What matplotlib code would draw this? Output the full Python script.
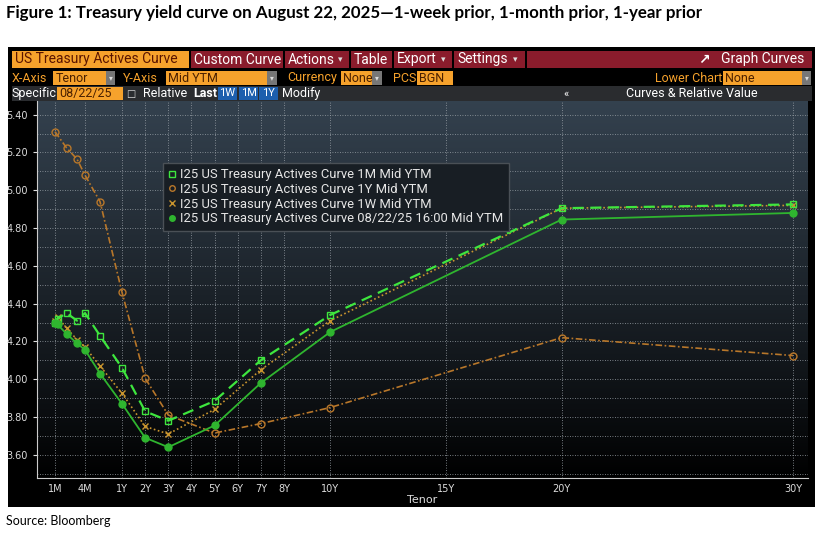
import numpy as np
import matplotlib
matplotlib.use("Agg")
import matplotlib.pyplot as plt
from matplotlib.lines import Line2D
from matplotlib.patches import Rectangle

# tenors in years (1M, 6W, 2M, 3M, 4M, 6M, 1Y, 2Y, 3Y, 5Y, 7Y, 10Y, 20Y, 30Y)
tenor_years = [1/12, 1.5/12, 2/12, 3/12, 4/12, 0.5, 1, 2, 3, 5, 7, 10, 20, 30]
curve_now = [4.30, 4.29, 4.24, 4.19, 4.155, 4.03, 3.87, 3.69, 3.64, 3.755, 3.98, 4.25, 4.845, 4.88]
curve_1w = [4.31, 4.33, 4.27, 4.21, 4.17, 4.07, 3.925, 3.75, 3.71, 3.84, 4.05, 4.31, 4.905, 4.92]
curve_1m = [4.30, 4.32, 4.35, 4.31, 4.35, 4.23, 4.06, 3.83, 3.78, 3.885, 4.10, 4.34, 4.905, 4.925]
tenor_years_1y = [1/12, 2/12, 3/12, 4/12, 0.5, 1, 2, 3, 5, 7, 10, 20, 30]
curve_1y = [5.31, 5.225, 5.165, 5.08, 4.94, 4.46, 4.005, 3.81, 3.715, 3.765, 3.85, 4.22, 4.125]

tick_years = [1/12, 4/12, 1, 2, 3, 4, 5, 6, 7, 8, 10, 15, 20, 30]
tick_labels = ['1M', '4M', '1Y', '2Y', '3Y', '4Y', '5Y', '6Y', '7Y', '8Y', '10Y', '15Y', '20Y', '30Y']

legend_labels = ['I25 US Treasury Actives Curve 1M Mid YTM',
                 'I25 US Treasury Actives Curve 1Y Mid YTM',
                 'I25 US Treasury Actives Curve 1W Mid YTM',
                 'I25 US Treasury Actives Curve 08/22/25 16:00 Mid YTM']

# bloomberg tenor axis: stretched short end, linear from 1Y on
T_ANCH = [0, 1/12, 1.5/12, 2/12, 3/12, 4/12, 0.5, 1, 31]
P_ANCH = [30, 55, 57.5, 66.5, 77, 85, 100, 122, 122 + 30 * 23.14]


def fwd(t):
    return np.interp(t, T_ANCH, P_ANCH)


def inv(p):
    return np.interp(p, P_ANCH, T_ANCH)


W, H = 826, 537
fig = plt.figure(figsize=(W / 100, H / 100), dpi=100)
fig.patch.set_facecolor('white')

ov = fig.add_axes([0, 0, 1, 1], zorder=0)
ov.set_xlim(0, W)
ov.set_ylim(H, 0)
ov.axis('off')

UI = ['Roboto', 'DejaVu Sans']
ORANGE = '#f6a22c'
RED = '#8a1c2c'


def box(x0, y0, x1, y1, c, **kw):
    ov.add_patch(Rectangle((x0, y0), x1 - x0, y1 - y0, facecolor=c, edgecolor='none', **kw))


def txt(x, y, s, c='white', size=9.5, **kw):
    kw.setdefault('family', UI)
    ov.text(x, y, s, color=c, fontsize=size, va='center', **kw)


ov.text(6, 13, 'Figure 1: Treasury yield curve on August 22, 2025\u20141-week prior, 1-month prior, 1-year prior',
        fontsize=12.2, fontweight='bold', family='Lato', va='center', color='black')
ov.text(6, 521, 'Source: Bloomberg', fontsize=9, family='Lato', va='center', color='black')

# terminal panel
box(8, 47, 815, 507, 'black')
box(12, 51, 812, 68, RED)
box(12, 51, 189, 68, ORANGE)
for xs in [189, 283, 349, 392, 452, 525]:
    box(xs, 51, xs + 1.5, 68, 'black')
txt(15, 59.5, 'US Treasury Actives Curve', c='#5a1400', size=10)
txt(194, 59.5, 'Custom Curve', size=10)
txt(288, 59.5, 'Actions', size=10)
txt(338, 60, '\u25be', size=6.5, c='#dddddd')
txt(354, 59.5, 'Table', size=10)
txt(397, 59.5, 'Export', size=10)
txt(441, 60, '\u25be', size=6.5, c='#dddddd')
txt(457, 59.5, 'Settings', size=10)
txt(513, 60, '\u25be', size=6.5, c='#dddddd')
txt(698, 59.5, '\u2197', size=10, family='DejaVu Sans', fontweight='bold')
txt(721, 59.5, 'Graph Curves', size=10)

# row 2
txt(12, 78, 'X-Axis', c=ORANGE, size=9)
box(53, 71, 106, 85, ORANGE)
txt(56, 78, 'Tenor', c='#4a2000', size=9)
box(106, 71, 115, 85, '#777777')
txt(123, 78, 'Y-Axis', c=ORANGE, size=9)
box(166, 71, 267, 85, ORANGE)
txt(168, 78, 'Mid YTM', c='#4a2000', size=9)
box(267, 71, 277, 85, '#777777')
txt(287, 78, 'Currency', c=ORANGE, size=9)
box(341, 71, 372, 85, ORANGE)
txt(343, 78, 'None', c='#4a2000', size=9)
box(372, 71, 382, 85, '#777777')
txt(393, 78, 'PCS', c=ORANGE, size=9)
box(417, 71, 453, 85, ORANGE)
txt(419, 78, 'BGN', c='#4a2000', size=9)
txt(655, 78, 'Lower Chart', c=ORANGE, size=9)
box(723, 71, 802, 85, ORANGE)
txt(725, 78, 'None', c='#4a2000', size=9)
box(802, 71, 811, 85, '#777777')
for xa in [110.5, 272, 377, 806.5]:
    txt(xa, 78.5, '\u25be', size=5.5, c='#dddddd', ha='center')

# row 3
box(12, 86, 812, 101, '#2a2c2f')
txt(12, 93.5, 'Specific', size=9)
box(57, 87, 123, 100, ORANGE)
txt(59, 93.5, '08/22/25', c='#4a2000', size=9)
txt(126, 93.5, '\u25a1', size=7, family='DejaVu Sans', c='#dddddd')
txt(143, 93.5, 'Relative', size=9)
txt(193, 93.5, 'Last', size=9, fontweight='bold')
for x0, lab in [(218, '1W'), (239, '1M'), (259, '1Y')]:
    box(x0, 87, x0 + 19, 100, '#1d5fae')
    txt(x0 + 9.5, 93.5, lab, size=8, ha='center')
txt(282, 93.5, 'Modify', size=9)
txt(563, 93.5, '\u00ab', size=8)
txt(692, 93.5, 'Curves & Relative Value', size=9, ha='center')

# plot area
L, R, T, B = 37, 808, 101, 478
pos = [L / W, 1 - B / H, (R - L) / W, (B - T) / H]
bg = fig.add_axes(pos, zorder=1)
grad = np.linspace(0, 1, 256).reshape(-1, 1)
top = np.array([0.17, 0.22, 0.27])
bot = np.array([0.0, 0.0, 0.0])
img = top[None, None, :] * (1 - grad[:, :, None]) + bot[None, None, :] * grad[:, :, None]
img = img ** 0.9
bg.imshow(img, aspect='auto', extent=[0, 1, 0, 1])
bg.axis('off')

ax = fig.add_axes(pos, zorder=2)
ax.patch.set_alpha(0)
ax.set_xscale('function', functions=(fwd, inv))
ax.set_xlim(inv(L), inv(R))
ax.set_ylim(3.477, 5.4725)

gl = dict(color='#9aa1a8', lw=0.6, ls=(0, (1, 2)))
ax.set_xticks(tick_years)
ax.set_xticklabels(tick_labels)
ax.set_yticks(np.arange(3.6, 5.41, 0.2))
ax.set_yticks(np.arange(3.5, 5.41, 0.1), minor=True)
ax.set_yticklabels(['%.2f' % v for v in np.arange(3.6, 5.41, 0.2)])
ax.xaxis.set_minor_locator(matplotlib.ticker.NullLocator())
ax.grid(True, which='both', **gl)
ax.tick_params(axis='both', which='major', colors='#dddddd', labelsize=7, length=3, width=0.8,
               labelfontfamily='DejaVu Sans')
ax.tick_params(axis='y', which='minor', length=0)
ax.tick_params(axis='x', length=0, pad=4)
for s in ['top', 'right']:
    ax.spines[s].set_visible(False)
ax.spines['left'].set_color('#cccccc')
ax.spines['bottom'].set_color('#cccccc')
ax.spines['left'].set_linewidth(0.8)
ax.spines['bottom'].set_linewidth(0.8)
ax.set_xlabel('Tenor', color='#dddddd', fontsize=8, family='DejaVu Sans', labelpad=1)

c_now, c_1m, c_1y, c_1w = '#2fb52f', '#3ee63e', '#b8772a', '#c9952f'
ax.plot(tenor_years_1y, curve_1y, color=c_1y, lw=1.2, ls=(0, (4, 1.5, 1, 1.5)),
        marker='o', ms=5, mfc='none', mec=c_1y, mew=1)
ax.plot(tenor_years, curve_1w, color=c_1w, lw=1.2, ls=(0, (1, 1.5)),
        marker='x', ms=4, mec=c_1w, mew=1)
ax.plot(tenor_years, curve_1m, color=c_1m, lw=1.6, ls=(0, (5, 3)),
        marker='s', ms=5, mfc='none', mec=c_1m, mew=1)
ax.plot(tenor_years, curve_now, color=c_now, lw=1.3, ls='-',
        marker='o', ms=5, mfc=c_now, mec=c_now)

handles = [Line2D([], [], ls='none', marker='s', ms=4, mfc='none', mec=c_1m),
           Line2D([], [], ls='none', marker='o', ms=4, mfc='none', mec=c_1y),
           Line2D([], [], ls='none', marker='x', ms=4, mec=c_1w),
           Line2D([], [], ls='none', marker='o', ms=4, mfc=c_now, mec=c_now)]
leg = ax.legend(handles, legend_labels, loc='upper left',
                bbox_to_anchor=((156 - L) / (R - L), (B - 156) / (B - T)),
                frameon=True, facecolor='#181e24', edgecolor='#4a5056', framealpha=1,
                handlelength=0.6, handletextpad=0.3, labelspacing=0.12, borderpad=0.45,
                prop={'family': UI, 'size': 9.4})
leg.get_frame().set_boxstyle('square', pad=0)
for t in leg.get_texts():
    t.set_color('#e6e6e6')

fig.savefig('out.png', dpi=100, facecolor='white')
